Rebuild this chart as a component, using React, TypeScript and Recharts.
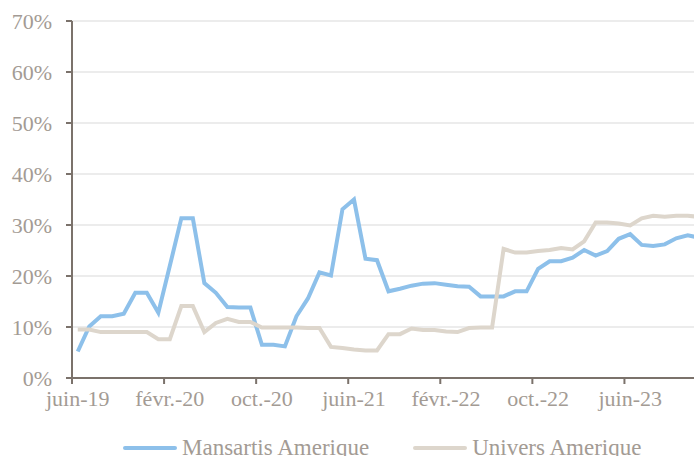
import React from 'react'
import { CartesianGrid, Legend, Line, LineChart, XAxis, YAxis } from 'recharts'

const months = [
  'juin-19', 'juil.-19', 'août-19', 'sept.-19', 'oct.-19', 'nov.-19', 'déc.-19',
  'janv.-20', 'févr.-20', 'mars-20', 'avr.-20', 'mai-20', 'juin-20', 'juil.-20', 'août-20', 'sept.-20', 'oct.-20', 'nov.-20', 'déc.-20',
  'janv.-21', 'févr.-21', 'mars-21', 'avr.-21', 'mai-21', 'juin-21', 'juil.-21', 'août-21', 'sept.-21', 'oct.-21', 'nov.-21', 'déc.-21',
  'janv.-22', 'févr.-22', 'mars-22', 'avr.-22', 'mai-22', 'juin-22', 'juil.-22', 'août-22', 'sept.-22', 'oct.-22', 'nov.-22', 'déc.-22',
  'janv.-23', 'févr.-23', 'mars-23', 'avr.-23', 'mai-23', 'juin-23', 'juil.-23', 'août-23', 'sept.-23', 'oct.-23', 'nov.-23', 'déc.-23',
]

const mansartis = [
  5.2, 10.1, 12.1, 12.1, 12.6, 16.7, 16.7, 12.8, 22.0, 31.3, 31.3, 18.6, 16.7, 13.9, 13.8, 13.8,
  6.5, 6.5, 6.2, 12.1, 15.6, 20.7, 20.1, 33.1, 35.0, 23.4, 23.1, 17.0, 17.5, 18.1, 18.5, 18.6,
  18.3, 18.0, 17.9, 16.0, 16.0, 16.0, 17.0, 17.0, 21.4, 22.9, 22.9, 23.6, 25.1, 24.0, 24.9, 27.3,
  28.2, 26.1, 25.9, 26.2, 27.4, 28.0, 27.5,
]

const univers = [
  9.5, 9.5, 9.0, 9.0, 9.0, 9.0, 9.0, 7.6, 7.6, 14.1, 14.1, 9.0, 10.8, 11.6, 11.0, 11.0,
  9.9, 9.9, 9.9, 9.9, 9.8, 9.8, 6.1, 5.9, 5.6, 5.4, 5.4, 8.6, 8.6, 9.7, 9.4, 9.4,
  9.1, 9.0, 9.8, 9.9, 9.9, 25.3, 24.6, 24.6, 24.9, 25.1, 25.5, 25.2, 26.8, 30.5, 30.5, 30.3,
  29.9, 31.3, 31.8, 31.6, 31.8, 31.8, 31.6,
]

const yTicks = [0, 10, 20, 30, 40, 50, 60, 70]

const data = months.map((month, i) => ({ month, mansartis: mansartis[i], univers: univers[i] }))

const FONT = "'Liberation Serif', serif"
const TEXT = '#a39b94'
const AXIS = '#7b726b'
const BLUE = '#8dc0ea'
const BEIGE = '#ddd6cc'

const WIDTH = 705
const Y_WIDTH = 72
const BAND = (WIDTH - Y_WIDTH) / months.length

const MonthTick = ({ x, y, payload }: any) => (
  <g>
    <line x1={x - BAND / 2} x2={x - BAND / 2} y1={y} y2={y + 6} stroke={AXIS} strokeWidth={2} />
    <text x={x} y={y + 28} textAnchor="middle" fill={TEXT} fontSize={22} fontFamily={FONT}>
      {payload.value}
    </text>
  </g>
)

const LegendBox = () => (
  <div
    style={{
      display: 'flex',
      alignItems: 'center',
      height: 44,
      paddingLeft: 123,
      fontFamily: FONT,
      fontSize: 23,
      color: TEXT,
      whiteSpace: 'nowrap',
    }}
  >
    <span style={{ width: 54, height: 4, borderRadius: 2, background: BLUE, marginRight: 5 }} />
    <span>Mansartis Amerique</span>
    <span style={{ width: 54, height: 4, borderRadius: 2, background: BEIGE, marginLeft: 44, marginRight: 5 }} />
    <span>Univers Amerique</span>
  </div>
)

export default function App() {
  return (
    <div style={{ position: 'absolute', top: 0, left: 0, width: 694, height: 456, overflow: 'hidden', background: '#fff' }}>
      <LineChart width={WIDTH} height={470} data={data} margin={{ top: 21, right: 0, bottom: 0, left: 0 }}>
        <CartesianGrid vertical={false} stroke="#ececec" strokeWidth={2} />
        <XAxis
          dataKey="month"
          scale="band"
          interval={7}
          height={48}
          tickLine={false}
          tickSize={0}
          tickMargin={0}
          axisLine={{ stroke: AXIS, strokeWidth: 2 }}
          tick={<MonthTick />}
        />
        <YAxis
          width={Y_WIDTH}
          domain={[0, 70]}
          ticks={yTicks}
          tickFormatter={(v: number) => `${v}%`}
          axisLine={{ stroke: AXIS, strokeWidth: 2 }}
          tickLine={{ stroke: AXIS, strokeWidth: 2 }}
          tickSize={6}
          tickMargin={14}
          tick={{ fill: TEXT, fontSize: 22, fontFamily: FONT }}
        />
        <Legend verticalAlign="bottom" content={<LegendBox />} />
        <Line
          type="linear"
          dataKey="mansartis"
          name="Mansartis Amerique"
          stroke={BLUE}
          strokeWidth={4}
          dot={false}
          isAnimationActive={false}
        />
        <Line
          type="linear"
          dataKey="univers"
          name="Univers Amerique"
          stroke={BEIGE}
          strokeWidth={4}
          dot={false}
          isAnimationActive={false}
        />
      </LineChart>
    </div>
  )
}
